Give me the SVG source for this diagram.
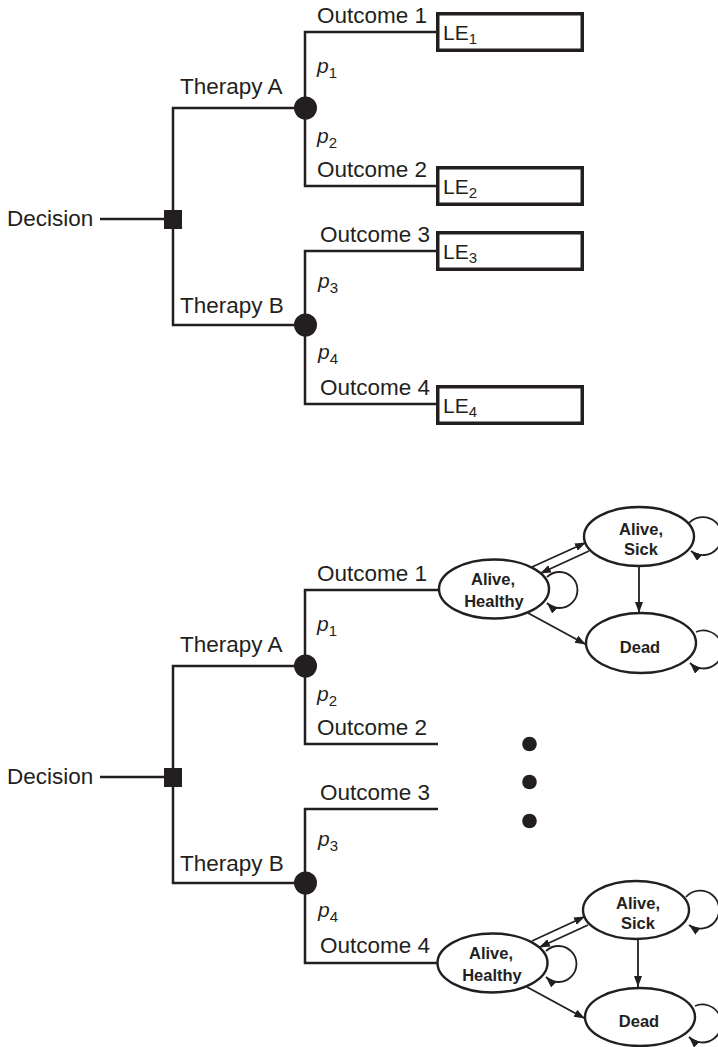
<svg xmlns="http://www.w3.org/2000/svg" width="718" height="1047" viewBox="0 0 718 1047">
  <style>
    .ln { fill: none; stroke: #231f20; stroke-width: 2.5; }
    .ar { fill: none; stroke: #231f20; stroke-width: 1.8; }
    .box { fill: #fff; stroke: #231f20; stroke-width: 3.5; }
    .st { fill: #fff; stroke: #231f20; stroke-width: 2.4; }
    .fill { fill: #231f20; }
    text { font-family: "Liberation Sans", Arial, sans-serif; fill: #231f20; }
    .lbl { font-size: 22.5px; }
    .le { font-size: 21px; }
    .pr { font-size: 21px; font-style: italic; }
    .sub { font-size: 15px; font-style: normal; }
    .sn { font-size: 16.5px; font-weight: bold; text-anchor: middle; }
  </style>
  <defs>
    <marker id="ah" markerUnits="userSpaceOnUse" markerWidth="12" markerHeight="10" refX="11" refY="4" orient="auto">
      <path d="M0,0 L11,4 L0,8 z" fill="#231f20"/>
    </marker>
  </defs>

  <rect width="718" height="1047" fill="#fff"/>

  <!-- ===== Upper tree: life expectancy at terminal nodes ===== -->
  <g id="connectors-top">
    <path class="ln" d="M100,219 H173"/>
    <path class="ln" d="M305,108 H173 V325 H305"/>
    <path class="ln" d="M438,32 H305 V186 H438"/>
    <path class="ln" d="M438,251 H305 V404 H438"/>
  </g>

  <g id="decision-top">
    <text class="lbl" x="7" y="226">Decision</text>
    <rect class="fill" x="164" y="210" width="18" height="19"/>
  </g>

  <g id="chance-a-top">
    <text class="lbl" x="180" y="94">Therapy A</text>
    <circle class="fill" cx="305.5" cy="108" r="11.5"/>
    <text class="pr" x="317" y="73">p<tspan class="sub" dy="5">1</tspan></text>
    <text class="pr" x="317" y="143">p<tspan class="sub" dy="5">2</tspan></text>
  </g>

  <g id="chance-b-top">
    <text class="lbl" x="180" y="313">Therapy B</text>
    <circle class="fill" cx="305.5" cy="325" r="11.5"/>
    <text class="pr" x="318" y="288">p<tspan class="sub" dy="5">3</tspan></text>
    <text class="pr" x="318" y="359">p<tspan class="sub" dy="5">4</tspan></text>
  </g>

  <g id="outcome1-top">
    <text class="lbl" x="317" y="23">Outcome 1</text>
    <rect class="box" x="437.75" y="13.75" width="144.5" height="36.5"/>
    <text class="le" x="443" y="40">LE<tspan class="sub" dy="4">1</tspan></text>
  </g>
  <g id="outcome2-top">
    <text class="lbl" x="317" y="177">Outcome 2</text>
    <rect class="box" x="437.75" y="167.75" width="144.5" height="36.5"/>
    <text class="le" x="443" y="194">LE<tspan class="sub" dy="4">2</tspan></text>
  </g>
  <g id="outcome3-top">
    <text class="lbl" x="320" y="242">Outcome 3</text>
    <rect class="box" x="437.75" y="232.75" width="144.5" height="36.5"/>
    <text class="le" x="443" y="259">LE<tspan class="sub" dy="4">3</tspan></text>
  </g>
  <g id="outcome4-top">
    <text class="lbl" x="320" y="395">Outcome 4</text>
    <rect class="box" x="437.75" y="386.75" width="144.5" height="36.5"/>
    <text class="le" x="443" y="413">LE<tspan class="sub" dy="4">4</tspan></text>
  </g>

  <!-- ===== Lower tree: Markov models at terminal nodes ===== -->
  <g id="connectors-bottom">
    <path class="ln" d="M100,777 H173"/>
    <path class="ln" d="M305,666 H173 V883 H305"/>
    <path class="ln" d="M439,590 H305 V744 H438"/>
    <path class="ln" d="M438,809 H305 V963 H438"/>
  </g>

  <g id="decision-bottom">
    <text class="lbl" x="7" y="784">Decision</text>
    <rect class="fill" x="164" y="768" width="18" height="19"/>
  </g>

  <g id="chance-a-bottom">
    <text class="lbl" x="180" y="652">Therapy A</text>
    <circle class="fill" cx="305.5" cy="666" r="11.5"/>
    <text class="pr" x="317" y="631">p<tspan class="sub" dy="5">1</tspan></text>
    <text class="pr" x="317" y="701">p<tspan class="sub" dy="5">2</tspan></text>
  </g>

  <g id="chance-b-bottom">
    <text class="lbl" x="180" y="871">Therapy B</text>
    <circle class="fill" cx="305.5" cy="883" r="11.5"/>
    <text class="pr" x="318" y="846">p<tspan class="sub" dy="5">3</tspan></text>
    <text class="pr" x="318" y="917">p<tspan class="sub" dy="5">4</tspan></text>
  </g>

  <g id="outcome-labels-bottom">
    <text class="lbl" x="317" y="581">Outcome 1</text>
    <text class="lbl" x="317" y="735">Outcome 2</text>
    <text class="lbl" x="320" y="800">Outcome 3</text>
    <text class="lbl" x="320" y="953">Outcome 4</text>
  </g>

  <g id="ellipsis-dots">
    <circle class="fill" cx="529.5" cy="744" r="7.3"/>
    <circle class="fill" cx="529.5" cy="782" r="7.3"/>
    <circle class="fill" cx="529.5" cy="821" r="7.3"/>
  </g>

  <!-- Markov model after Outcome 1 -->
  <g id="markov1-transitions">
    <path class="ar" d="M532,567 L586,542.5" marker-end="url(#ah)"/>
    <path class="ar" d="M589,551 L540,573.5" marker-end="url(#ah)"/>
    <path class="ar" d="M528,613 L586,644.5" marker-end="url(#ah)"/>
    <path class="ar" d="M639,566 V613" marker-end="url(#ah)"/>
    <path class="ar" d="M547,577 A18 18 0 1 1 547,603" marker-end="url(#ah)"/>
    <path class="ar" d="M689,523 A19 19 0 1 1 691,551" marker-end="url(#ah)"/>
    <path class="ar" d="M696,632 A19 19 0 1 1 690,663" marker-end="url(#ah)"/>
  </g>
  <g id="markov1-healthy">
    <ellipse class="st" cx="494" cy="589" rx="55" ry="29.5"/>
    <text class="sn" x="493" y="585">Alive,</text>
    <text class="sn" x="494" y="607">Healthy</text>
  </g>
  <g id="markov1-sick">
    <ellipse class="st" cx="639" cy="536.5" rx="55" ry="29.5"/>
    <text class="sn" x="641" y="535">Alive,</text>
    <text class="sn" x="641" y="555">Sick</text>
  </g>
  <g id="markov1-dead">
    <ellipse class="st" cx="641" cy="643" rx="55" ry="30"/>
    <text class="sn" x="640" y="653">Dead</text>
  </g>

  <!-- Markov model after Outcome 4 -->
  <g id="markov4-transitions">
    <path class="ar" d="M532,941 L585,916.5" marker-end="url(#ah)"/>
    <path class="ar" d="M588,925 L539,947.5" marker-end="url(#ah)"/>
    <path class="ar" d="M527,987 L585,1018.5" marker-end="url(#ah)"/>
    <path class="ar" d="M638,940 V987" marker-end="url(#ah)"/>
    <path class="ar" d="M546,951 A18 18 0 1 1 546,977" marker-end="url(#ah)"/>
    <path class="ar" d="M686,897 A19 19 0 1 1 689,925" marker-end="url(#ah)"/>
    <path class="ar" d="M695,1006 A19 19 0 1 1 689,1037" marker-end="url(#ah)"/>
  </g>
  <g id="markov4-healthy">
    <ellipse class="st" cx="492.5" cy="963" rx="55" ry="29.5"/>
    <text class="sn" x="491" y="959">Alive,</text>
    <text class="sn" x="492" y="981">Healthy</text>
  </g>
  <g id="markov4-sick">
    <ellipse class="st" cx="636" cy="910" rx="53" ry="29"/>
    <text class="sn" x="638" y="909">Alive,</text>
    <text class="sn" x="638" y="929">Sick</text>
  </g>
  <g id="markov4-dead">
    <ellipse class="st" cx="640" cy="1017" rx="55" ry="29"/>
    <text class="sn" x="639" y="1027">Dead</text>
  </g>
</svg>
